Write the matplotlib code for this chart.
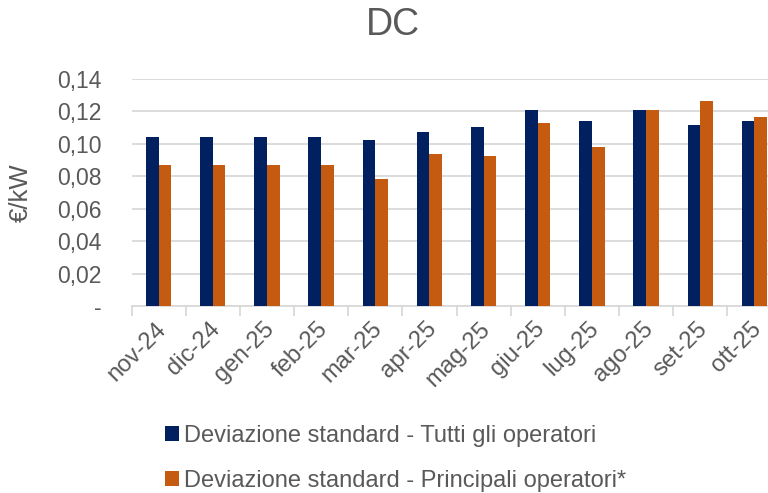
import numpy as np
import matplotlib.pyplot as plt
import matplotlib.transforms as mtransforms
from matplotlib.ticker import FuncFormatter, FixedLocator

plt.rcParams['font.family'] = ['Liberation Sans', 'DejaVu Sans']

# dati
mesi = ['nov-24', 'dic-24', 'gen-25', 'feb-25', 'mar-25', 'apr-25',
        'mag-25', 'giu-25', 'lug-25', 'ago-25', 'set-25', 'ott-25']
tutti = [0.104, 0.104, 0.1045, 0.1045, 0.1025, 0.1074,
         0.1104, 0.1207, 0.1141, 0.1209, 0.1115, 0.1139]
principali = [0.087, 0.087, 0.087, 0.087, 0.0783, 0.0937,
              0.0926, 0.1131, 0.0982, 0.1209, 0.1264, 0.1168]
lab_tutti = 'Deviazione standard - Tutti gli operatori'
lab_principali = 'Deviazione standard - Principali operatori*'

blu = '#002060'
arancio = '#C55A11'
grigio = '#595959'

fig = plt.figure(figsize=(7.68, 4.93), dpi=100)
ax = fig.add_axes([131.5/768, 1-306/493, 650/768, 227/493])

x = np.arange(len(mesi))
w = 0.235
b1 = ax.bar(x - w/2, tutti, w, color=blu, label=lab_tutti, zorder=3)
b2 = ax.bar(x + w/2, principali, w, color=arancio, label=lab_principali, zorder=3)

ax.set_xlim(-0.5, len(mesi) - 0.5)
ax.set_ylim(0, 0.14)
ax.set_yticks(np.arange(0, 0.141, 0.02))
ax.yaxis.set_major_formatter(FuncFormatter(
    lambda v, p: '-' if abs(v) < 1e-9 else ('%.2f' % v).replace('.', ',')))
ax.grid(axis='y', color='#d9d9d9', linewidth=1.3, zorder=0)
ax.tick_params(axis='y', length=0, pad=21.5, labelsize=16.5, labelcolor=grigio)

# tacche tra le categorie
ax.set_xticks(x)
ax.set_xticklabels(mesi, rotation=45, ha='right', rotation_mode='anchor',
                   fontsize=17.2, color=grigio)
ax.tick_params(axis='x', which='major', length=0, pad=10)
sposta = mtransforms.ScaledTranslation(-4/100, 2/100, fig.dpi_scale_trans)
for t in ax.get_xticklabels():
    t.set_transform(t.get_transform() + sposta)
ax.xaxis.set_minor_locator(FixedLocator(np.arange(-0.5, len(mesi), 1)))
ax.tick_params(axis='x', which='minor', length=7, color='#d9d9d9', width=1.3)

for s in ['top', 'right', 'left']:
    ax.spines[s].set_visible(False)
ax.spines['bottom'].set_color('#d9d9d9')
ax.spines['bottom'].set_linewidth(1.3)

ax.set_ylabel('€/kW', fontsize=18.5, color=grigio)
ax.yaxis.set_label_coords(-(131.5-33)/650, 0.5)
fig.text(393/768, 1-25/493, 'DC', ha='center', va='center', fontsize=27, color=grigio)

fig.legend(handles=[b1, b2], loc='upper left', bbox_to_anchor=(165/768, 1-425/493),
           frameon=False, fontsize=17, labelcolor=grigio, handlelength=0.6,
           handleheight=0.6, handletextpad=0.2, labelspacing=0.98,
           borderpad=0, borderaxespad=0)

plt.savefig('out.png', dpi=100)
